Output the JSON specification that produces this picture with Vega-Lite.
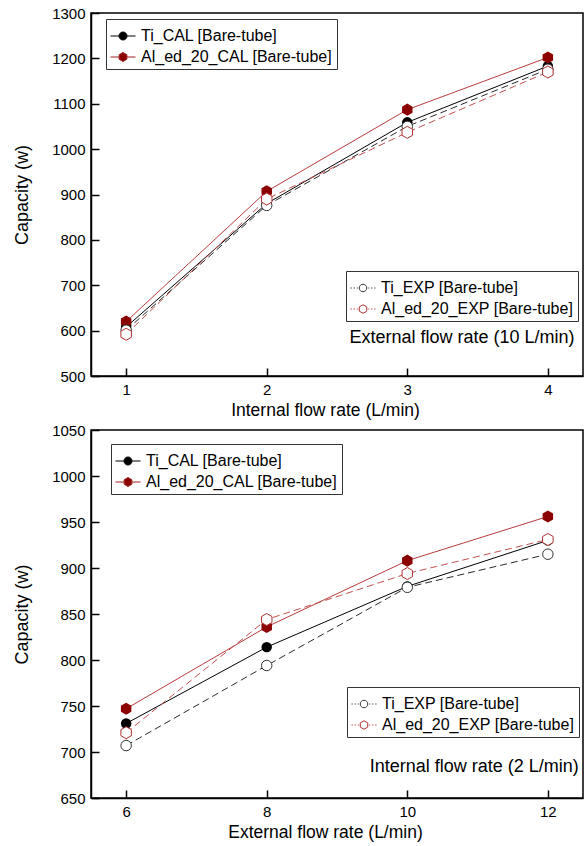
{
  "$schema": "https://vega.github.io/schema/vega-lite/v6.json",
  "padding": {"left": 12, "top": 5, "right": 4, "bottom": 4},
  "spacing": 2,
  "datasets": {
    "top": [
      {"flow": 1, "capacity": 608, "series": "Ti_CAL [Bare-tube]", "kind": "CAL"},
      {"flow": 2, "capacity": 880, "series": "Ti_CAL [Bare-tube]", "kind": "CAL"},
      {"flow": 3, "capacity": 1059, "series": "Ti_CAL [Bare-tube]", "kind": "CAL"},
      {"flow": 4, "capacity": 1183, "series": "Ti_CAL [Bare-tube]", "kind": "CAL"},
      {"flow": 1, "capacity": 620, "series": "Al_ed_20_CAL [Bare-tube]", "kind": "CAL"},
      {"flow": 2, "capacity": 907, "series": "Al_ed_20_CAL [Bare-tube]", "kind": "CAL"},
      {"flow": 3, "capacity": 1087, "series": "Al_ed_20_CAL [Bare-tube]", "kind": "CAL"},
      {"flow": 4, "capacity": 1202, "series": "Al_ed_20_CAL [Bare-tube]", "kind": "CAL"},
      {"flow": 1, "capacity": 601, "series": "Ti_EXP [Bare-tube]", "kind": "EXP"},
      {"flow": 2, "capacity": 876, "series": "Ti_EXP [Bare-tube]", "kind": "EXP"},
      {"flow": 3, "capacity": 1050, "series": "Ti_EXP [Bare-tube]", "kind": "EXP"},
      {"flow": 4, "capacity": 1176, "series": "Ti_EXP [Bare-tube]", "kind": "EXP"},
      {"flow": 1, "capacity": 592, "series": "Al_ed_20_EXP [Bare-tube]", "kind": "EXP"},
      {"flow": 2, "capacity": 890, "series": "Al_ed_20_EXP [Bare-tube]", "kind": "EXP"},
      {"flow": 3, "capacity": 1037, "series": "Al_ed_20_EXP [Bare-tube]", "kind": "EXP"},
      {"flow": 4, "capacity": 1170, "series": "Al_ed_20_EXP [Bare-tube]", "kind": "EXP"}
    ],
    "bottom": [
      {"flow": 6, "capacity": 731, "series": "Ti_CAL [Bare-tube]", "kind": "CAL"},
      {"flow": 8, "capacity": 814, "series": "Ti_CAL [Bare-tube]", "kind": "CAL"},
      {"flow": 10, "capacity": 880, "series": "Ti_CAL [Bare-tube]", "kind": "CAL"},
      {"flow": 12, "capacity": 930, "series": "Ti_CAL [Bare-tube]", "kind": "CAL"},
      {"flow": 6, "capacity": 747, "series": "Al_ed_20_CAL [Bare-tube]", "kind": "CAL"},
      {"flow": 8, "capacity": 836, "series": "Al_ed_20_CAL [Bare-tube]", "kind": "CAL"},
      {"flow": 10, "capacity": 908, "series": "Al_ed_20_CAL [Bare-tube]", "kind": "CAL"},
      {"flow": 12, "capacity": 956, "series": "Al_ed_20_CAL [Bare-tube]", "kind": "CAL"},
      {"flow": 6, "capacity": 707, "series": "Ti_EXP [Bare-tube]", "kind": "EXP"},
      {"flow": 8, "capacity": 794, "series": "Ti_EXP [Bare-tube]", "kind": "EXP"},
      {"flow": 10, "capacity": 879, "series": "Ti_EXP [Bare-tube]", "kind": "EXP"},
      {"flow": 12, "capacity": 915, "series": "Ti_EXP [Bare-tube]", "kind": "EXP"},
      {"flow": 6, "capacity": 721, "series": "Al_ed_20_EXP [Bare-tube]", "kind": "EXP"},
      {"flow": 8, "capacity": 844, "series": "Al_ed_20_EXP [Bare-tube]", "kind": "EXP"},
      {"flow": 10, "capacity": 894, "series": "Al_ed_20_EXP [Bare-tube]", "kind": "EXP"},
      {"flow": 12, "capacity": 931, "series": "Al_ed_20_EXP [Bare-tube]", "kind": "EXP"}
    ]
  },
  "resolve": {
    "scale": {"color": "independent", "fill": "independent", "stroke": "independent", "shape": "independent"},
    "legend": {"color": "independent", "fill": "independent", "stroke": "independent", "shape": "independent"}
  },
  "vconcat": [
    {
      "width": 492,
      "height": 363,
      "data": {"name": "top"},
      "resolve": {
        "scale": {"color": "independent", "fill": "independent", "stroke": "independent", "shape": "independent"},
        "legend": {"color": "independent", "fill": "independent", "stroke": "independent", "shape": "independent"}
      },
      "encoding": {
        "x": {"field": "flow", "type": "quantitative", "scale": {"domain": [0.75, 4.25], "nice": false, "zero": false},
              "axis": {"values": [1, 2, 3, 4], "title": "Internal flow rate (L/min)", "format": "d", "titleX": 234}},
        "y": {"field": "capacity", "type": "quantitative", "scale": {"domain": [500, 1300], "nice": false, "zero": false},
              "axis": {"values": [500, 600, 700, 800, 900, 1000, 1100, 1200, 1300], "title": "Capacity (w)", "format": "d"}}
      },
      "layer": [
        {
          "transform": [{"filter": "datum.kind == 'CAL'"}],
          "mark": {"type": "line", "strokeWidth": 1},
          "encoding": {"color": {"field": "series", "type": "nominal", "legend": null,
            "scale": {"domain": ["Ti_CAL [Bare-tube]", "Al_ed_20_CAL [Bare-tube]"], "range": ["#000000", "#b83c3c"]}}}
        },
        {
          "transform": [{"filter": "datum.kind == 'EXP'"}],
          "mark": {"type": "line", "strokeWidth": 1, "strokeDash": [7, 4]},
          "encoding": {"color": {"field": "series", "type": "nominal", "legend": null,
            "scale": {"domain": ["Ti_EXP [Bare-tube]", "Al_ed_20_EXP [Bare-tube]"], "range": ["#2a2a2a", "#c45050"]}}}
        },
        {
          "transform": [{"filter": "datum.kind == 'CAL'"}],
          "mark": {"type": "point", "filled": true, "size": 110, "strokeWidth": 0, "opacity": 1},
          "encoding": {
            "fill": {"field": "series", "type": "nominal", "legend": null,
              "scale": {"domain": ["Ti_CAL [Bare-tube]", "Al_ed_20_CAL [Bare-tube]"], "range": ["#000000", "#8b0000"]}},
            "shape": {"field": "series", "type": "nominal", "legend": null,
              "scale": {"domain": ["Ti_CAL [Bare-tube]", "Al_ed_20_CAL [Bare-tube]"], "range": ["circle", "M0,-1.15L1,-0.575L1,0.575L0,1.15L-1,0.575L-1,-0.575Z"]}}
          }
        },
        {
          "transform": [{"filter": "datum.kind == 'EXP'"}],
          "mark": {"type": "point", "filled": false, "fill": "white", "size": 110, "strokeWidth": 1, "opacity": 1},
          "encoding": {
            "stroke": {"field": "series", "type": "nominal", "legend": null,
              "scale": {"domain": ["Ti_EXP [Bare-tube]", "Al_ed_20_EXP [Bare-tube]"], "range": ["#333333", "#b03030"]}},
            "shape": {"field": "series", "type": "nominal", "legend": null,
              "scale": {"domain": ["Ti_EXP [Bare-tube]", "Al_ed_20_EXP [Bare-tube]"], "range": ["circle", "M0,-1.15L1,-0.575L1,0.575L0,1.15L-1,0.575L-1,-0.575Z"]}}
          }
        },
        {
          "transform": [{"filter": "false"}],
          "mark": {"type": "point", "filled": true, "opacity": 1},
          "encoding": {
            "fill": {"field": "series", "type": "nominal",
              "scale": {"domain": ["Ti_CAL [Bare-tube]", "Al_ed_20_CAL [Bare-tube]"], "range": ["#000000", "#8b0000"]},
              "legend": {"orient": "none", "legendX": 15, "legendY": 6, "title": null}},
            "stroke": {"field": "series", "type": "nominal",
              "scale": {"domain": ["Ti_CAL [Bare-tube]", "Al_ed_20_CAL [Bare-tube]"], "range": ["#000000", "#a02020"]},
              "legend": {"orient": "none", "legendX": 15, "legendY": 6, "title": null}},
            "shape": {"field": "series", "type": "nominal",
              "scale": {"domain": ["Ti_CAL [Bare-tube]", "Al_ed_20_CAL [Bare-tube]"],
                "range": ["M-1,0L-0.32,0M0.32,0L1,0M-0.32,0A0.32,0.32 0 1,1 0.32,0A0.32,0.32 0 1,1 -0.32,0Z", "M-1,0L-0.3,0M0.3,0L1,0M0,-0.36L0.31,-0.18L0.31,0.18L0,0.36L-0.31,0.18L-0.31,-0.18Z"]},
              "legend": {"orient": "none", "legendX": 15, "legendY": 6, "title": null}}
          }
        },
        {
          "transform": [{"filter": "false"}],
          "mark": {"type": "point", "filled": false, "fill": "white", "opacity": 1},
          "encoding": {
            "stroke": {"field": "series", "type": "nominal",
              "scale": {"domain": ["Ti_EXP [Bare-tube]", "Al_ed_20_EXP [Bare-tube]"], "range": ["#333333", "#b03030"]},
              "legend": {"orient": "none", "legendX": 255, "legendY": 258, "title": null}},
            "shape": {"field": "series", "type": "nominal",
              "scale": {"domain": ["Ti_EXP [Bare-tube]", "Al_ed_20_EXP [Bare-tube]"],
                "range": ["M-1,0L-0.9,0M-0.75,0L-0.65,0M-0.5,0L-0.42,0M0.42,0L0.5,0M0.65,0L0.75,0M0.9,0L1,0M-0.3,0A0.3,0.3 0 1,1 0.3,0A0.3,0.3 0 1,1 -0.3,0Z", "M-1,0L-0.9,0M-0.75,0L-0.65,0M-0.5,0L-0.42,0M0.42,0L0.5,0M0.65,0L0.75,0M0.9,0L1,0M0,-0.34L0.3,-0.17L0.3,0.17L0,0.34L-0.3,0.17L-0.3,-0.17Z"]},
              "legend": {"orient": "none", "legendX": 255, "legendY": 258, "title": null}}
          }
        },
        {
          "transform": [{"filter": "datum.flow == 4 && datum.kind == 'CAL' && datum.series == 'Ti_CAL [Bare-tube]'"}],
          "mark": {"type": "text", "align": "right", "baseline": "middle", "fontSize": 18, "fill": "black", "opacity": 1},
          "encoding": {"x": {"datum": 4.19}, "y": {"datum": 584}, "text": {"value": "External flow rate (10 L/min)"}}
        }
      ]
    },
    {
      "width": 492,
      "height": 368,
      "data": {"name": "bottom"},
      "resolve": {
        "scale": {"color": "independent", "fill": "independent", "stroke": "independent", "shape": "independent"},
        "legend": {"color": "independent", "fill": "independent", "stroke": "independent", "shape": "independent"}
      },
      "encoding": {
        "x": {"field": "flow", "type": "quantitative", "scale": {"domain": [5.5, 12.5], "nice": false, "zero": false},
              "axis": {"values": [6, 8, 10, 12], "title": "External flow rate (L/min)", "format": "d", "titleX": 234}},
        "y": {"field": "capacity", "type": "quantitative", "scale": {"domain": [650, 1050], "nice": false, "zero": false},
              "axis": {"values": [650, 700, 750, 800, 850, 900, 950, 1000, 1050], "title": "Capacity (w)", "format": "d"}}
      },
      "layer": [
        {
          "transform": [{"filter": "datum.kind == 'CAL'"}],
          "mark": {"type": "line", "strokeWidth": 1},
          "encoding": {"color": {"field": "series", "type": "nominal", "legend": null,
            "scale": {"domain": ["Ti_CAL [Bare-tube]", "Al_ed_20_CAL [Bare-tube]"], "range": ["#000000", "#b83c3c"]}}}
        },
        {
          "transform": [{"filter": "datum.kind == 'EXP'"}],
          "mark": {"type": "line", "strokeWidth": 1, "strokeDash": [7, 4]},
          "encoding": {"color": {"field": "series", "type": "nominal", "legend": null,
            "scale": {"domain": ["Ti_EXP [Bare-tube]", "Al_ed_20_EXP [Bare-tube]"], "range": ["#2a2a2a", "#c45050"]}}}
        },
        {
          "transform": [{"filter": "datum.kind == 'CAL'"}],
          "mark": {"type": "point", "filled": true, "size": 110, "strokeWidth": 0, "opacity": 1},
          "encoding": {
            "fill": {"field": "series", "type": "nominal", "legend": null,
              "scale": {"domain": ["Ti_CAL [Bare-tube]", "Al_ed_20_CAL [Bare-tube]"], "range": ["#000000", "#8b0000"]}},
            "shape": {"field": "series", "type": "nominal", "legend": null,
              "scale": {"domain": ["Ti_CAL [Bare-tube]", "Al_ed_20_CAL [Bare-tube]"], "range": ["circle", "M0,-1.15L1,-0.575L1,0.575L0,1.15L-1,0.575L-1,-0.575Z"]}}
          }
        },
        {
          "transform": [{"filter": "datum.kind == 'EXP'"}],
          "mark": {"type": "point", "filled": false, "fill": "white", "size": 110, "strokeWidth": 1, "opacity": 1},
          "encoding": {
            "stroke": {"field": "series", "type": "nominal", "legend": null,
              "scale": {"domain": ["Ti_EXP [Bare-tube]", "Al_ed_20_EXP [Bare-tube]"], "range": ["#333333", "#b03030"]}},
            "shape": {"field": "series", "type": "nominal", "legend": null,
              "scale": {"domain": ["Ti_EXP [Bare-tube]", "Al_ed_20_EXP [Bare-tube]"], "range": ["circle", "M0,-1.15L1,-0.575L1,0.575L0,1.15L-1,0.575L-1,-0.575Z"]}}
          }
        },
        {
          "transform": [{"filter": "false"}],
          "mark": {"type": "point", "filled": true, "opacity": 1},
          "encoding": {
            "fill": {"field": "series", "type": "nominal",
              "scale": {"domain": ["Ti_CAL [Bare-tube]", "Al_ed_20_CAL [Bare-tube]"], "range": ["#000000", "#8b0000"]},
              "legend": {"orient": "none", "legendX": 20, "legendY": 14, "title": null}},
            "stroke": {"field": "series", "type": "nominal",
              "scale": {"domain": ["Ti_CAL [Bare-tube]", "Al_ed_20_CAL [Bare-tube]"], "range": ["#000000", "#a02020"]},
              "legend": {"orient": "none", "legendX": 20, "legendY": 14, "title": null}},
            "shape": {"field": "series", "type": "nominal",
              "scale": {"domain": ["Ti_CAL [Bare-tube]", "Al_ed_20_CAL [Bare-tube]"],
                "range": ["M-1,0L-0.32,0M0.32,0L1,0M-0.32,0A0.32,0.32 0 1,1 0.32,0A0.32,0.32 0 1,1 -0.32,0Z", "M-1,0L-0.3,0M0.3,0L1,0M0,-0.36L0.31,-0.18L0.31,0.18L0,0.36L-0.31,0.18L-0.31,-0.18Z"]},
              "legend": {"orient": "none", "legendX": 20, "legendY": 14, "title": null}}
          }
        },
        {
          "transform": [{"filter": "false"}],
          "mark": {"type": "point", "filled": false, "fill": "white", "opacity": 1},
          "encoding": {
            "stroke": {"field": "series", "type": "nominal",
              "scale": {"domain": ["Ti_EXP [Bare-tube]", "Al_ed_20_EXP [Bare-tube]"], "range": ["#333333", "#b03030"]},
              "legend": {"orient": "none", "legendX": 256, "legendY": 257, "title": null}},
            "shape": {"field": "series", "type": "nominal",
              "scale": {"domain": ["Ti_EXP [Bare-tube]", "Al_ed_20_EXP [Bare-tube]"],
                "range": ["M-1,0L-0.9,0M-0.75,0L-0.65,0M-0.5,0L-0.42,0M0.42,0L0.5,0M0.65,0L0.75,0M0.9,0L1,0M-0.3,0A0.3,0.3 0 1,1 0.3,0A0.3,0.3 0 1,1 -0.3,0Z", "M-1,0L-0.9,0M-0.75,0L-0.65,0M-0.5,0L-0.42,0M0.42,0L0.5,0M0.65,0L0.75,0M0.9,0L1,0M0,-0.34L0.3,-0.17L0.3,0.17L0,0.34L-0.3,0.17L-0.3,-0.17Z"]},
              "legend": {"orient": "none", "legendX": 256, "legendY": 257, "title": null}}
          }
        },
        {
          "transform": [{"filter": "datum.flow == 12 && datum.kind == 'CAL' && datum.series == 'Ti_CAL [Bare-tube]'"}],
          "mark": {"type": "text", "align": "right", "baseline": "middle", "fontSize": 18, "fill": "black", "opacity": 1},
          "encoding": {"x": {"datum": 12.44}, "y": {"datum": 684}, "text": {"value": "Internal flow rate (2 L/min)"}}
        }
      ]
    }
  ],
  "config": {
    "font": "Liberation Sans",
    "background": "white",
    "view": {"stroke": "black", "strokeWidth": 1.5},
    "axis": {"grid": false, "domainColor": "black", "domainWidth": 1.5, "tickColor": "black", "tickWidth": 1.5, "tickSize": -8,
             "labelPadding": 14, "labelFontSize": 15, "labelColor": "black", "labelFont": "Liberation Sans",
             "titleFontSize": 18, "titleFontWeight": "normal", "titleColor": "black", "titleFont": "Liberation Sans"},
    "axisY": {"titlePadding": 20},
    "axisX": {"titlePadding": 4, "titleFontSize": 17.5},
    "legend": {"labelFont": "Liberation Sans", "labelFontSize": 16, "labelColor": "black", "labelLimit": 0,
               "strokeColor": "#333333", "fillColor": "white", "padding": 4, "rowPadding": 0, "labelOffset": 5,
               "symbolSize": 625, "symbolStrokeWidth": 1}
  }
}
